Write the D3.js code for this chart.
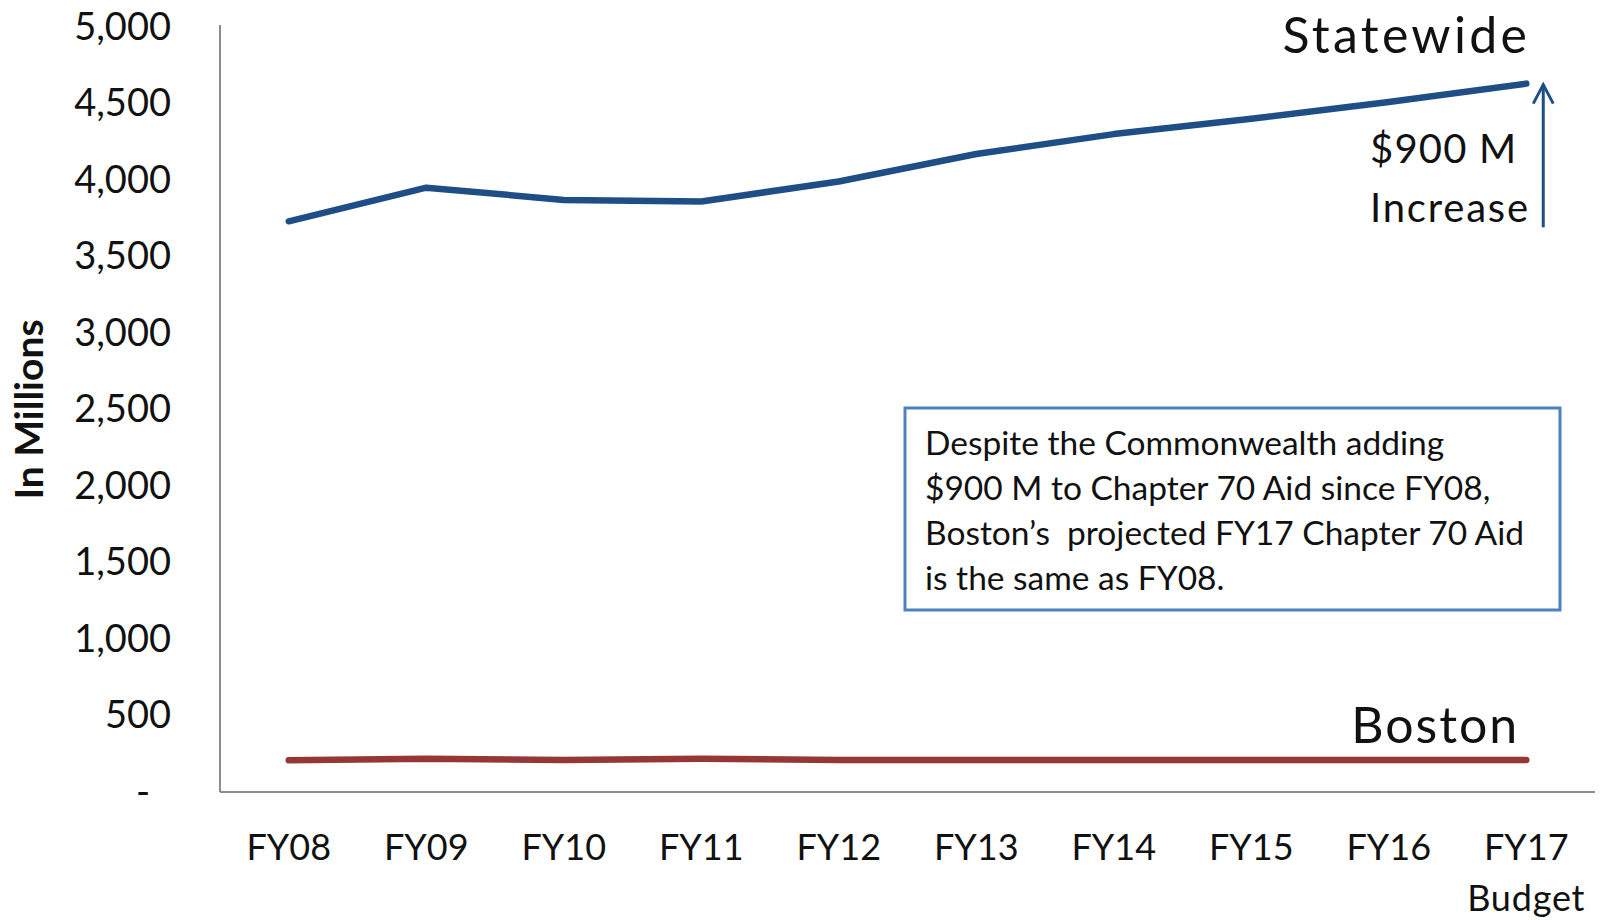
<!DOCTYPE html>
<html><head><meta charset="utf-8">
<script src="https://cdn.jsdelivr.net/npm/d3@7"></script>
<style>
body{margin:0;background:#fff}
svg{display:block}
text{font-family:Lato,"Open Sans",sans-serif;fill:#111}
</style>
</head><body>
<svg id="chart" width="1601" height="920"></svg>
<script>
// ---- data ----
const categories = ["FY08","FY09","FY10","FY11","FY12","FY13","FY14","FY15","FY16","FY17"];
const categoryLabels = [["FY08"],["FY09"],["FY10"],["FY11"],["FY12"],["FY13"],["FY14"],["FY15"],["FY16"],["FY17","Budget"]];
const statewide = [3730,3950,3870,3860,3990,4170,4300,4400,4510,4630];
const boston = [207,218,209,218,209,209,209,209,209,209];
const yTicks = [0,500,1000,1500,2000,2500,3000,3500,4000,4500,5000];
const yTickLabels = ["-","500","1,000","1,500","2,000","2,500","3,000","3,500","4,000","4,500","5,000"];
const boxLines = [
  "Despite the Commonwealth adding",
  "$900 M to Chapter 70 Aid since FY08,",
  "Boston\u2019s  projected FY17 Chapter 70 Aid",
  "is the same as FY08."
];

// ---- layout ----
const svg = d3.select("#chart");
const mLeft = 220, mRight = 1595, mTop = 27, mBottom = 792;

const x = d3.scaleBand().domain(categories).range([mLeft, mRight]).paddingInner(0).paddingOuter(0);
const cx = d => x(d) + x.bandwidth() / 2;
const y = d3.scaleLinear().domain([0, 5000]).range([mBottom, mTop]);

// axes lines
svg.append("line").attr("x1", mLeft).attr("x2", mLeft).attr("y1", mTop - 2).attr("y2", mBottom)
  .attr("stroke", "#8c8c8c").attr("stroke-width", 2);
svg.append("line").attr("x1", mLeft).attr("x2", mRight).attr("y1", mBottom).attr("y2", mBottom)
  .attr("stroke", "#8c8c8c").attr("stroke-width", 2);

// y tick labels
const yAxis = d3.axisLeft(y).tickValues(yTicks).tickSize(0).tickPadding(49)
  .tickFormat((d, i) => yTickLabels[i]);
const gy = svg.append("g").attr("transform", `translate(${mLeft},0)`).call(yAxis);
gy.select(".domain").remove();
gy.selectAll("text").style("font-family", "Lato").style("font-size", "38px").attr("fill", "#222")
  .attr("dx", d => d === 0 ? -21 : 0);

// x tick labels
const gx = svg.append("g");
categories.forEach((c, i) => {
  const t = gx.append("text").attr("x", cx(c)).attr("y", mBottom + 68)
    .attr("text-anchor", "middle").style("font-size", "36px").attr("fill", "#222");
  categoryLabels[i].forEach((s, j) => {
    t.append("tspan").attr("x", cx(c)).attr("dy", j === 0 ? 0 : 51)
      .style("letter-spacing", j === 0 ? "0px" : "0.8px").text(s);
  });
});

// y axis title
svg.append("text").attr("transform", `translate(43,${(mTop + mBottom) / 2}) rotate(-90)`)
  .attr("text-anchor", "middle").style("font-size", "39px").style("font-weight", "bold")
  .attr("fill", "#000").text("In Millions");

// lines
const line = d3.line().x((d, i) => cx(categories[i])).y(d => y(d));
svg.append("path").datum(statewide).attr("d", line).attr("fill", "none")
  .attr("stroke", "#1f4e87").attr("stroke-width", 6.5).attr("stroke-linecap", "round").attr("stroke-linejoin", "round");
svg.append("path").datum(boston).attr("d", line).attr("fill", "none")
  .attr("stroke", "#953735").attr("stroke-width", 6.5).attr("stroke-linecap", "round").attr("stroke-linejoin", "round");

// series labels
svg.append("text").attr("x", cx("FY17") + 4).attr("y", 53).attr("text-anchor", "end")
  .style("font-size", "50px").style("letter-spacing", "3.3px").attr("fill", "#111").text("Statewide");
svg.append("text").attr("x", cx("FY17") - 7).attr("y", 743).attr("text-anchor", "end")
  .style("font-size", "50px").style("letter-spacing", "2px").attr("fill", "#111").text("Boston");

// increase arrow
const ax = cx("FY17") + 17;
const yTopArrow = y(statewide[statewide.length - 1]);
const yBotArrow = y(statewide[0]) + 6;
svg.append("line").attr("x1", ax).attr("x2", ax).attr("y1", yBotArrow).attr("y2", yTopArrow + 1)
  .attr("stroke", "#1f4e87").attr("stroke-width", 3);
svg.append("path").attr("d", `M${ax - 10},${yTopArrow + 20} L${ax},${yTopArrow + 1} L${ax + 10},${yTopArrow + 20}`)
  .attr("fill", "none").attr("stroke", "#1f4e87").attr("stroke-width", 3).attr("stroke-linejoin", "miter");
svg.append("text").attr("x", 1370).attr("y", 163).style("font-size", "40px").style("letter-spacing", "1.2px").attr("fill", "#111").text("$900 M");
svg.append("text").attr("x", 1370).attr("y", 222).style("font-size", "40px").style("letter-spacing", "1.8px").attr("fill", "#111").text("Increase");

// note box
svg.append("rect").attr("x", 905).attr("y", 408).attr("width", 655).attr("height", 202)
  .attr("fill", "#fff").attr("stroke", "#4f81bd").attr("stroke-width", 3);
const nb = svg.append("text").style("font-size", "33.5px").attr("fill", "#000");
boxLines.forEach((s, i) => {
  nb.append("tspan").attr("x", 925).attr("y", 455 + i * 45).attr("xml:space", "preserve").style("white-space", "pre").text(s);
});
</script>
</body></html>
